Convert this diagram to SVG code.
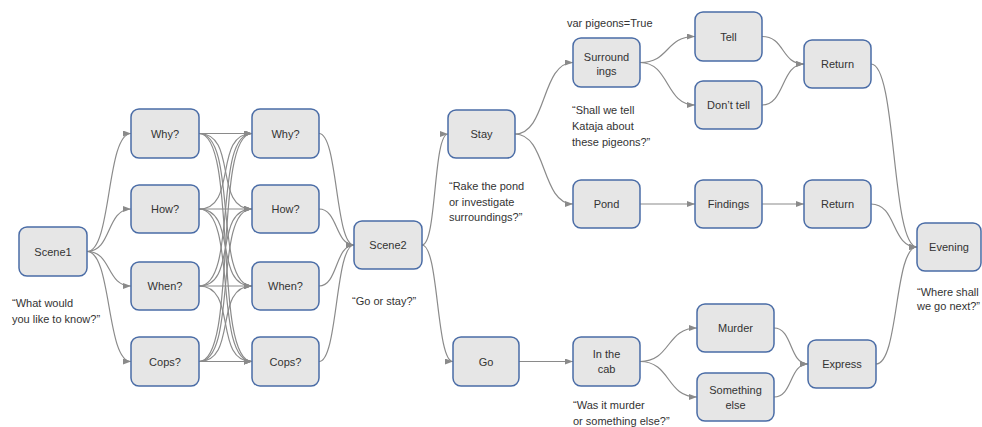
<svg xmlns="http://www.w3.org/2000/svg" width="982" height="427" viewBox="0 0 982 427">
<defs>
<marker id="ah" viewBox="0 0 8 6" refX="8" refY="3" markerWidth="8" markerHeight="6" markerUnits="userSpaceOnUse" orient="auto">
<path d="M0,0 L8,3 L0,6 z" fill="#8a8a8a"/>
</marker>
<style>
.n rect{fill:#e6e6e6;stroke:#4a6ca6;stroke-width:1.5}
text{font-family:"Liberation Sans",Arial,sans-serif;font-size:11px;fill:#333}
.n text{text-anchor:middle}
#edges path{fill:none;stroke:#8a8a8a;stroke-width:1.2;marker-end:url(#ah)}
</style>
</defs>
<rect width="982" height="427" fill="#fff"/>
<g id="edges">
<path d="M87,251.5 C112,251.5 106,133.5 131,133.5"/>
<path d="M87,251.5 C112,251.5 106,209 131,209"/>
<path d="M87,251.5 C112,251.5 106,286 131,286"/>
<path d="M87,251.5 C112,251.5 106,361.5 131,361.5"/>
<path d="M199,133.5 C238,133.5 213,133.5 252,133.5"/>
<path d="M199,133.5 C238,133.5 213,209 252,209"/>
<path d="M199,133.5 C238,133.5 213,286 252,286"/>
<path d="M199,133.5 C238,133.5 213,361.5 252,361.5"/>
<path d="M199,209 C238,209 213,133.5 252,133.5"/>
<path d="M199,209 C238,209 213,209 252,209"/>
<path d="M199,209 C238,209 213,286 252,286"/>
<path d="M199,209 C238,209 213,361.5 252,361.5"/>
<path d="M199,286 C238,286 213,133.5 252,133.5"/>
<path d="M199,286 C238,286 213,209 252,209"/>
<path d="M199,286 C238,286 213,286 252,286"/>
<path d="M199,286 C238,286 213,361.5 252,361.5"/>
<path d="M199,361.5 C238,361.5 213,133.5 252,133.5"/>
<path d="M199,361.5 C238,361.5 213,209 252,209"/>
<path d="M199,361.5 C238,361.5 213,286 252,286"/>
<path d="M199,361.5 C238,361.5 213,361.5 252,361.5"/>
<path d="M319,133.5 C338,133.5 335,245 354,245"/>
<path d="M319,209 C338,209 335,245 354,245"/>
<path d="M319,286 C338,286 335,245 354,245"/>
<path d="M319,361.5 C338,361.5 335,245 354,245"/>
<path d="M422,245 C437,245 433,134 448,134"/>
<path d="M422,245 C439,245 436,361.5 453,361.5"/>
<path d="M515,134 C547,134 541,62.5 573,62.5"/>
<path d="M515,134 C547,134 541,204 573,204"/>
<path d="M519,361.5 L573,361.5"/>
<path d="M640,62.5 C670,62.5 665,36.5 695,36.5"/>
<path d="M640,62.5 C670,62.5 665,105 695,105"/>
<path d="M762,36.5 C785,36.5 781,64 804,64"/>
<path d="M762,105 C785,105 781,64 804,64"/>
<path d="M640,204 L695,204"/>
<path d="M762,204 L804,204"/>
<path d="M640,361.5 C671,361.5 666,328 697,328"/>
<path d="M640,361.5 C671,361.5 666,397 697,397"/>
<path d="M774,328 C793,328 789,364 808,364"/>
<path d="M774,397 C793,397 789,364 808,364"/>
<path d="M871,64 C897,64 891,247 917,247"/>
<path d="M871,204 C897,204 891,247 917,247"/>
<path d="M876,364 C899,364 894,247 917,247"/>
</g>
<g id="scene1" class="n"><rect x="19" y="227" width="68" height="49" rx="8"/><text x="53" y="255.5">Scene1</text></g>
<g id="why1" class="n"><rect x="131" y="109" width="68" height="49" rx="8"/><text x="165" y="137.5">Why?</text></g>
<g id="how1" class="n"><rect x="131" y="185" width="68" height="48" rx="8"/><text x="165" y="213">How?</text></g>
<g id="when1" class="n"><rect x="131" y="262" width="68" height="48" rx="8"/><text x="165" y="290">When?</text></g>
<g id="cops1" class="n"><rect x="131" y="337" width="68" height="49" rx="8"/><text x="165" y="365.5">Cops?</text></g>
<g id="why2" class="n"><rect x="252" y="109" width="67" height="49" rx="8"/><text x="285.5" y="137.5">Why?</text></g>
<g id="how2" class="n"><rect x="252" y="185" width="67" height="48" rx="8"/><text x="285.5" y="213">How?</text></g>
<g id="when2" class="n"><rect x="252" y="262" width="67" height="48" rx="8"/><text x="285.5" y="290">When?</text></g>
<g id="cops2" class="n"><rect x="252" y="337" width="67" height="49" rx="8"/><text x="285.5" y="365.5">Cops?</text></g>
<g id="scene2" class="n"><rect x="354" y="221" width="68" height="48" rx="8"/><text x="388" y="249">Scene2</text></g>
<g id="stay" class="n"><rect x="448" y="110" width="67" height="48" rx="8"/><text x="481.5" y="138">Stay</text></g>
<g id="go" class="n"><rect x="453" y="337" width="66" height="49" rx="8"/><text x="486" y="365.5">Go</text></g>
<g id="surroundings" class="n"><rect x="573" y="38" width="67" height="49" rx="8"/><text x="606.5" y="60.5">Surround</text><text x="606.5" y="75">ings</text></g>
<g id="pond" class="n"><rect x="573" y="180" width="67" height="48" rx="8"/><text x="606.5" y="208">Pond</text></g>
<g id="cab" class="n"><rect x="573" y="337" width="67" height="49" rx="8"/><text x="606.5" y="358">In the</text><text x="606.5" y="372.5">cab</text></g>
<g id="tell" class="n"><rect x="695" y="12" width="67" height="49" rx="8"/><text x="728.5" y="40.5">Tell</text></g>
<g id="donttell" class="n"><rect x="695" y="81" width="67" height="48" rx="8"/><text x="728.5" y="109">Don’t tell</text></g>
<g id="findings" class="n"><rect x="695" y="180" width="67" height="48" rx="8"/><text x="728.5" y="208">Findings</text></g>
<g id="murder" class="n"><rect x="697" y="304" width="77" height="48" rx="8"/><text x="735.5" y="332">Murder</text></g>
<g id="else" class="n"><rect x="697" y="373" width="77" height="48" rx="8"/><text x="735.5" y="394">Something</text><text x="735.5" y="408.5">else</text></g>
<g id="return1" class="n"><rect x="804" y="40" width="67" height="48" rx="8"/><text x="837.5" y="68">Return</text></g>
<g id="return2" class="n"><rect x="804" y="180" width="67" height="48" rx="8"/><text x="837.5" y="208">Return</text></g>
<g id="express" class="n"><rect x="808" y="340" width="68" height="48" rx="8"/><text x="842" y="368">Express</text></g>
<g id="evening" class="n"><rect x="917" y="223" width="64" height="48" rx="8"/><text x="949" y="251">Evening</text></g>
<g id="labels">
<text x="12" y="307">“What would</text>
<text x="12" y="323">you like to know?”</text>
<text x="352" y="305">“Go or stay?”</text>
<text x="567" y="27">var pigeons=True</text>
<text x="572" y="114">“Shall we tell</text>
<text x="572" y="130">Kataja about</text>
<text x="572" y="146">these pigeons?”</text>
<text x="449" y="190">“Rake the pond</text>
<text x="449" y="206">or investigate</text>
<text x="449" y="221">surroundings?”</text>
<text x="573" y="409">“Was it murder</text>
<text x="573" y="425">or something else?”</text>
<text x="917" y="296">“Where shall</text>
<text x="917" y="310">we go next?”</text>
</g>
</svg>
